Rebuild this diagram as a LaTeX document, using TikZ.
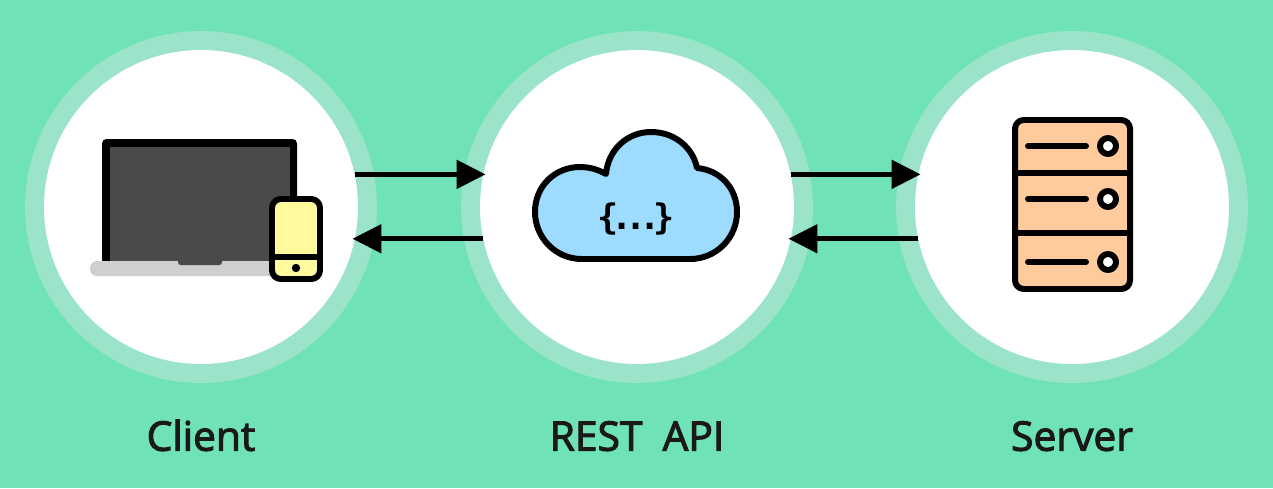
\documentclass[tikz,border=0pt]{standalone}
\usepackage{fontspec}
\usepackage{tikz}
\usetikzlibrary{arrows.meta, positioning}
\setmainfont[FakeBold=2.6, WordSpace=1.9]{Open Sans}
\newfontfamily\bracefont[LetterSpace=-20]{DejaVu Sans Mono Bold}
\definecolor{bgcol}{HTML}{6FE2B7}
\definecolor{ringcol}{HTML}{9BE4CA}
\definecolor{screencol}{HTML}{4A4A4A}
\definecolor{basecol}{HTML}{CFCFCF}
\definecolor{phonecol}{HTML}{FFFA9E}
\definecolor{cloudcol}{HTML}{9EDCFF}
\definecolor{rackcol}{HTML}{FFCB9C}

\begin{document}
\begin{tikzpicture}[
    x=0.02cm, y=-0.02cm,
    disc/.style={circle, fill=white, inner sep=0pt, outer sep=0pt, minimum size=6.28cm},
    ring/.style={circle, fill=ringcol, inner sep=0pt, outer sep=0pt, minimum size=7.04cm},
    capt/.style={font=\fontsize{23.2}{26}\selectfont, text=black!90, text height=17pt, text depth=0pt, inner sep=0pt},
    arrow/.style={-{Triangle[length=16.5pt, width=16pt]}, line width=2.7pt, shorten >=-1.2pt},
    icon/.style={draw=black, line width=3.4pt, line join=round},
    stroke/.style={draw=black, line width=3.4pt, line cap=round}
  ]
  \fill[bgcol] (0,0) rectangle (1273,488);
  \node[ring] (clientring) at (201,207) {};
  \node[ring] (apiring) at (637,207) {};
  \node[ring] (serverring) at (1072,207) {};
  \node[disc] (client) at (clientring) {};
  \node[disc] (api) at (apiring) {};
  \node[disc] (server) at (serverring) {};
  \node[capt, below=1.13cm of client] (clientname) {Client};
  \node[capt, below=1.13cm of api] (apiname) {REST API};
  \node[capt, below=1.13cm of server] (servername) {Server};
  \draw[arrow] (client.12) -- (api.168);
  \draw[arrow] ([yshift=0.5pt]api.192) -- ([yshift=0.5pt]client.348);
  \draw[arrow] (api.12) -- (server.168);
  \draw[arrow] ([yshift=0.5pt]server.192) -- ([yshift=0.5pt]api.348);
  % laptop
  \fill[black, rounded corners=2.5pt] (102,139) rectangle (297,265);
  \fill[screencol] (110,147) rectangle (290,263);
  \fill[basecol, rounded corners=4pt] (90,261) rectangle (280,276);
  \fill[screencol, rounded corners=1.5pt] (178,258) rectangle (222,265);
  % phone
  \draw[icon, fill=phonecol, rounded corners=5pt] (272,199) rectangle (320,279);
  \draw[icon] (272,257) -- (320,257);
  \fill[black] (296,268) circle (4.2);
  % cloud
  \draw[icon, fill=cloudcol] (582,259) .. controls (555,259) and (535,237) .. (535,212)
    .. controls (535,186) and (555,167) .. (580,167)
    .. controls (590,167) and (599,170) .. (606,174)
    .. controls (608,150) and (627,132) .. (651,132)
    .. controls (675,132) and (693,148) .. (697,168)
    .. controls (720,170) and (737,188) .. (737,212)
    .. controls (737,238) and (716,259) .. (690,259) -- cycle;
  \node[font=\bracefont\fontsize{20}{24}\selectfont, inner sep=0pt] (braces) at (636,219) {\{...\}};
  % server
  \draw[icon, fill=rackcol, rounded corners=5pt] (1015,120) rectangle (1130,289);
  \draw[icon] (1015,173) -- (1130,173);
  \draw[icon] (1015,233) -- (1130,233);
  \foreach \rowy in {146,199,262} {
    \draw[stroke] (1028,\rowy) -- (1086,\rowy);
    \draw[icon, fill=white] (1108,\rowy) circle (8);
  }
\end{tikzpicture}
\end{document}
